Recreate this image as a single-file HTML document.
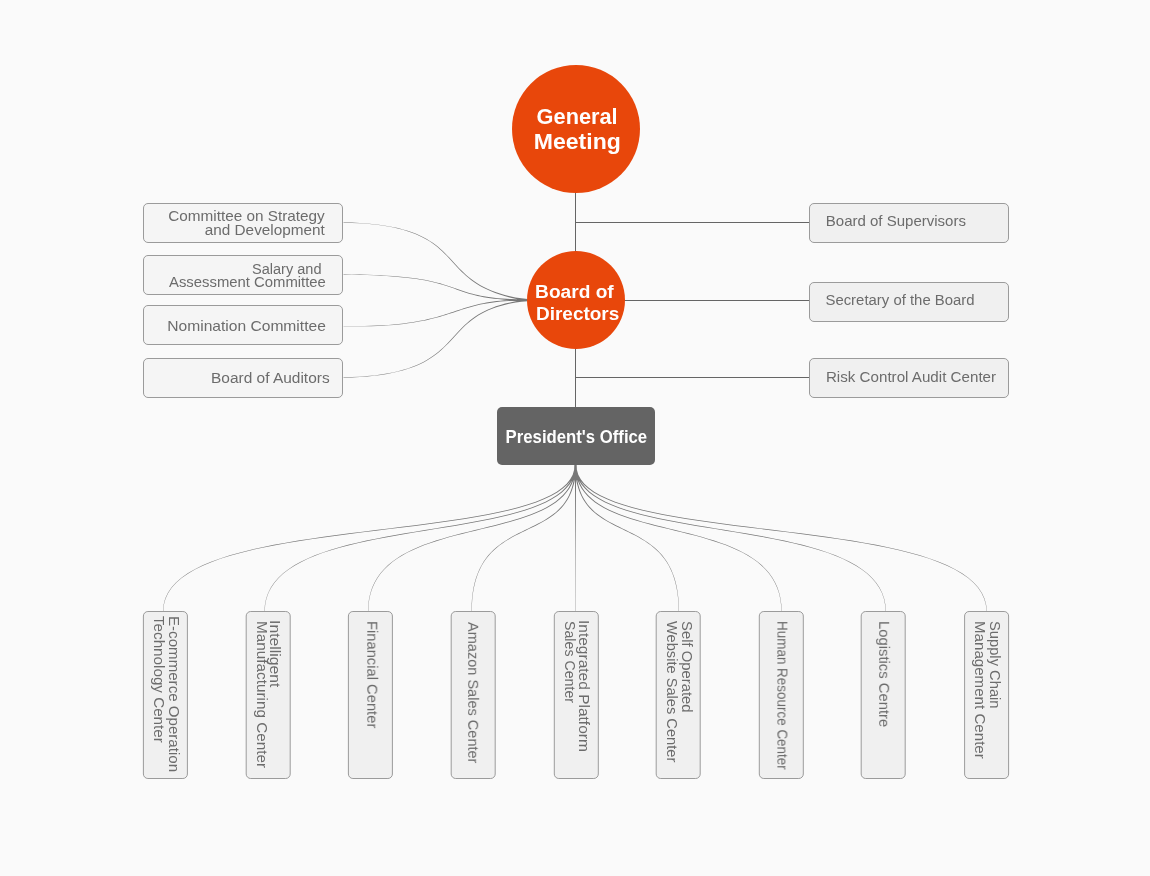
<!DOCTYPE html>
<html lang="en"><head><meta charset="utf-8"><title>Organization Chart</title>
<style>
html,body{margin:0;padding:0;background:#fafafa;}
body{width:1150px;height:876px;overflow:hidden;}
svg{display:block;font-family:"Liberation Sans",Arial,sans-serif;}
</style></head>
<body>
<svg width="1150" height="876" viewBox="0 0 1150 876">
<rect width="1150" height="876" fill="#fafafa"/>
<path d="M575.5 192V408M575.5 222.5H809M624 300.5H809M575.5 377.5H809" stroke="#656565" stroke-width="1" fill="none"/>
<path d="M574.33 464.50L574.11 469.72L572.70 474.68L570.19 479.35L566.67 483.72L562.18 487.82L556.80 491.64L550.57 495.21L543.55 498.53L535.78 501.63L527.31 504.51L518.19 507.19L508.48 509.70L498.22 512.04L487.45 514.24L476.23 516.30L464.60 518.25L452.61 520.10L440.32 521.87L427.76 523.57L414.98 525.22L402.04 526.84L388.98 528.44L375.84 530.05L362.68 531.67L349.54 533.32L336.48 535.02L323.53 536.79L310.75 538.64L298.19 540.59L285.88 542.65L273.89 544.85L262.25 547.20L251.02 549.71L240.24 552.40L229.95 555.29L220.22 558.39L211.08 561.73L202.58 565.31L194.78 569.16L187.71 573.29L181.43 577.72L175.98 582.47L171.41 587.55L167.78 592.97L165.12 598.76L163.50 604.94L162.95 611.50L163.25 611.50L163.81 604.99L165.43 598.88L168.08 593.14L171.69 587.77L176.24 582.74L181.67 578.03L187.93 573.63L194.98 569.53L202.76 565.71L211.24 562.15L220.37 558.83L230.09 555.75L240.36 552.88L251.13 550.20L262.36 547.71L273.99 545.38L285.98 543.20L298.28 541.15L310.84 539.22L323.62 537.38L336.56 535.63L349.62 533.94L362.76 532.30L375.92 530.70L389.06 529.11L402.12 527.52L415.07 525.92L427.85 524.28L440.42 522.59L452.72 520.84L464.72 519.00L476.36 517.07L487.60 515.01L498.39 512.83L508.67 510.50L518.42 508.00L527.57 505.32L536.08 502.44L543.90 499.35L550.99 496.02L557.31 492.44L562.80 488.60L567.43 484.46L571.16 480.01L573.95 475.23L575.79 470.08L576.67 464.50ZM574.33 464.50L574.23 469.77L573.21 474.74L571.34 479.41L568.70 483.78L565.33 487.87L561.29 491.68L556.61 495.24L551.32 498.55L545.48 501.64L539.10 504.52L532.24 507.20L524.92 509.71L517.19 512.05L509.08 514.24L500.62 516.30L491.86 518.25L482.83 520.10L473.56 521.87L464.09 523.57L454.46 525.22L444.71 526.84L434.86 528.44L424.96 530.05L415.04 531.67L405.13 533.32L395.28 535.02L385.52 536.79L375.89 538.64L366.41 540.59L357.14 542.66L348.09 544.86L339.32 547.20L330.85 549.71L322.72 552.41L314.96 555.30L307.62 558.40L300.73 561.74L294.32 565.33L288.43 569.18L283.10 573.31L278.37 577.74L274.26 582.49L270.82 587.57L268.08 592.99L266.08 598.78L264.86 604.94L264.45 611.50L264.75 611.50L265.17 604.98L266.40 598.86L268.40 593.12L271.13 587.75L274.56 582.72L278.65 578.01L283.37 573.62L288.68 569.52L294.55 565.70L300.94 562.14L307.81 558.83L315.14 555.74L322.88 552.87L331.00 550.20L339.46 547.71L348.23 545.38L357.26 543.20L366.53 541.15L376.00 539.21L385.63 537.38L395.39 535.63L405.24 533.94L415.14 532.30L425.06 530.70L434.97 529.11L444.82 527.52L454.58 525.91L464.22 524.28L473.69 522.59L482.97 520.83L492.02 519.00L500.80 517.06L509.28 515.01L517.41 512.82L525.17 510.49L532.53 507.99L539.43 505.31L545.86 502.43L551.77 499.33L557.12 495.99L561.90 492.41L566.05 488.55L569.56 484.40L572.38 479.95L574.51 475.17L575.93 470.03L576.67 464.50ZM574.33 464.50L574.37 469.81L573.74 474.81L572.52 479.49L570.77 483.86L568.54 487.94L565.85 491.75L562.74 495.30L559.23 498.60L555.34 501.68L551.10 504.55L546.54 507.23L541.67 509.73L536.52 512.07L531.11 514.26L525.48 516.32L519.64 518.26L513.62 520.11L507.44 521.87L501.13 523.58L494.71 525.23L488.20 526.85L481.64 528.45L475.03 530.05L468.41 531.67L461.81 533.33L455.24 535.03L448.72 536.80L442.30 538.65L435.97 540.60L429.78 542.67L423.75 544.86L417.89 547.21L412.24 549.72L406.81 552.42L401.63 555.31L396.73 558.42L392.13 561.76L387.86 565.35L383.93 569.20L380.37 573.34L377.21 577.77L374.48 582.52L372.18 587.59L370.36 593.01L369.03 598.79L368.22 604.95L367.95 611.50L368.25 611.50L368.53 604.98L369.36 598.85L370.69 593.10L372.52 587.72L374.81 582.69L377.54 577.98L380.69 573.59L384.23 569.49L388.15 565.67L392.41 562.12L396.99 558.81L401.88 555.72L407.04 552.86L412.45 550.19L418.09 547.69L423.94 545.37L429.96 543.19L436.15 541.14L442.46 539.21L448.88 537.37L455.39 535.62L461.96 533.93L468.57 532.30L475.19 530.69L481.79 529.10L488.37 527.51L494.88 525.91L501.31 524.27L507.64 522.58L513.83 520.83L519.87 518.99L525.74 517.05L531.40 515.00L536.83 512.81L542.02 510.47L546.94 507.97L551.56 505.28L555.85 502.39L559.81 499.28L563.40 495.93L566.59 492.34L569.38 488.47L571.73 484.32L573.63 479.87L575.07 475.10L576.08 469.99L576.67 464.50ZM574.33 464.50L574.50 469.85L574.27 474.88L573.71 479.58L572.86 483.97L571.75 488.06L570.41 491.87L568.86 495.41L567.11 498.72L565.17 501.79L563.06 504.65L560.78 507.31L558.36 509.80L555.79 512.13L553.10 514.31L550.29 516.36L547.37 518.30L544.36 520.15L541.28 521.91L538.12 523.60L534.91 525.25L531.66 526.87L528.37 528.47L525.06 530.08L521.75 531.70L518.44 533.35L515.15 535.05L511.88 536.82L508.66 538.68L505.49 540.63L502.39 542.70L499.36 544.90L496.43 547.25L493.59 549.77L490.87 552.47L488.28 555.36L485.82 558.48L483.52 561.82L481.38 565.41L479.42 569.26L477.64 573.39L476.06 577.82L474.70 582.56L473.55 587.62L472.65 593.03L471.98 598.81L471.58 604.96L471.45 611.50L471.75 611.50L471.90 604.97L472.31 598.84L472.99 593.08L473.91 587.69L475.06 582.65L476.43 577.94L478.02 573.54L479.80 569.44L481.76 565.62L483.90 562.06L486.20 558.75L488.64 555.67L491.23 552.81L493.94 550.14L496.76 547.65L499.69 545.33L502.70 543.15L505.80 541.11L508.96 539.18L512.18 537.35L515.43 535.60L518.72 533.91L522.03 532.27L525.35 530.67L528.66 529.08L531.96 527.49L535.23 525.88L538.46 524.24L541.63 522.55L544.74 520.79L547.78 518.95L550.73 517.00L553.58 514.94L556.31 512.74L558.92 510.40L561.40 507.88L563.72 505.18L565.89 502.28L567.88 499.17L569.68 495.82L571.29 492.22L572.69 488.36L573.89 484.22L574.86 479.78L575.63 475.03L576.22 469.95L576.67 464.50ZM574.33 464.50L574.64 469.90L574.81 474.95L574.91 479.68L574.97 484.09L575.00 488.21L575.03 492.04L575.04 495.62L575.05 498.94L575.06 502.04L575.07 504.92L575.08 507.60L575.09 510.10L575.10 512.44L575.10 514.63L575.11 516.68L575.12 518.62L575.13 520.47L575.13 522.23L575.14 523.92L575.15 525.57L575.16 527.18L575.16 528.78L575.17 530.37L575.18 531.98L575.19 533.63L575.19 535.32L575.20 537.09L575.21 538.93L575.22 540.87L575.22 542.93L575.23 545.12L575.24 547.45L575.25 549.96L575.25 552.64L575.26 555.52L575.27 558.61L575.28 561.94L575.28 565.51L575.29 569.35L575.30 573.46L575.31 577.88L575.31 582.60L575.32 587.66L575.33 593.06L575.34 598.82L575.34 604.96L575.35 611.50L575.65 611.50L575.66 604.96L575.66 598.82L575.67 593.06L575.68 587.66L575.69 582.60L575.69 577.88L575.70 573.46L575.71 569.35L575.72 565.51L575.72 561.94L575.73 558.61L575.74 555.52L575.75 552.64L575.75 549.96L575.76 547.45L575.77 545.12L575.78 542.93L575.78 540.87L575.79 538.93L575.80 537.09L575.81 535.32L575.81 533.63L575.82 531.98L575.83 530.37L575.84 528.78L575.84 527.18L575.85 525.57L575.86 523.92L575.87 522.23L575.87 520.47L575.88 518.62L575.89 516.68L575.90 514.63L575.90 512.44L575.91 510.10L575.92 507.60L575.93 504.92L575.94 502.04L575.95 498.94L575.96 495.62L575.97 492.04L576.00 488.21L576.03 484.09L576.09 479.68L576.19 474.95L576.36 469.90L576.67 464.50ZM574.33 464.50L574.78 469.95L575.36 475.03L576.13 479.78L577.10 484.22L578.29 488.36L579.68 492.22L581.28 495.82L583.07 499.16L585.05 502.28L587.20 505.18L589.52 507.88L591.98 510.40L594.57 512.74L597.30 514.94L600.13 517.00L603.06 518.95L606.08 520.79L609.17 522.55L612.33 524.24L615.54 525.88L618.79 527.49L622.06 529.08L625.36 530.67L628.66 532.27L631.95 533.91L635.22 535.60L638.46 537.35L641.66 539.18L644.80 541.11L647.87 543.15L650.87 545.33L653.78 547.65L656.59 550.14L659.28 552.81L661.85 555.67L664.29 558.75L666.57 562.06L668.70 565.62L670.65 569.44L672.42 573.54L673.99 577.94L675.36 582.65L676.51 587.69L677.42 593.08L678.09 598.84L678.50 604.97L678.65 611.50L678.95 611.50L678.82 604.96L678.42 598.81L677.76 593.03L676.86 587.62L675.72 582.56L674.36 577.82L672.80 573.39L671.03 569.26L669.08 565.41L666.95 561.82L664.66 558.48L662.22 555.36L659.64 552.47L656.94 549.77L654.12 547.25L651.20 544.90L648.19 542.70L645.10 540.63L641.95 538.68L638.75 536.82L635.50 535.05L632.23 533.35L628.94 531.70L625.65 530.08L622.36 528.47L619.09 526.87L615.85 525.25L612.66 523.61L609.53 521.91L606.46 520.15L603.47 518.30L600.57 516.36L597.78 514.31L595.10 512.13L592.55 509.80L590.14 507.32L587.87 504.65L585.77 501.79L583.85 498.72L582.10 495.42L580.56 491.87L579.23 488.06L578.13 483.97L577.29 479.58L576.73 474.88L576.50 469.86L576.67 464.50ZM574.33 464.50L574.92 469.99L575.92 475.10L577.36 479.87L579.24 484.32L581.58 488.47L584.34 492.34L587.52 495.93L591.08 499.28L595.01 502.39L599.28 505.28L603.87 507.97L608.75 510.47L613.90 512.81L619.30 515.00L624.93 517.05L630.75 518.99L636.75 520.83L642.90 522.58L649.19 524.27L655.57 525.91L662.04 527.51L668.57 529.10L675.14 530.69L681.71 532.30L688.27 533.93L694.80 535.62L701.26 537.37L707.64 539.21L713.91 541.14L720.05 543.19L726.04 545.37L731.84 547.69L737.45 550.19L742.82 552.86L747.95 555.72L752.80 558.81L757.35 562.12L761.59 565.67L765.47 569.49L768.99 573.59L772.12 577.98L774.84 582.69L777.11 587.72L778.92 593.10L780.25 598.85L781.07 604.98L781.35 611.50L781.65 611.50L781.38 604.95L780.57 598.79L779.26 593.01L777.45 587.59L775.17 582.52L772.45 577.77L769.31 573.34L765.78 569.20L761.88 565.35L757.63 561.76L753.06 558.42L748.19 555.31L743.05 552.42L737.66 549.73L732.05 547.21L726.23 544.86L720.24 542.67L714.09 540.60L707.81 538.65L701.42 536.80L694.95 535.03L688.43 533.33L681.86 531.67L675.29 530.05L668.73 528.45L662.21 526.85L655.75 525.23L649.37 523.58L643.10 521.88L636.96 520.11L630.98 518.26L625.18 516.32L619.59 514.26L614.22 512.07L609.11 509.73L604.27 507.23L599.74 504.55L595.53 501.68L591.66 498.60L588.18 495.30L585.09 491.75L582.42 487.94L580.20 483.86L578.47 479.49L577.26 474.81L576.63 469.81L576.67 464.50ZM574.33 464.50L575.07 470.03L576.49 475.17L578.61 479.95L581.43 484.40L584.93 488.55L589.07 492.41L593.83 495.99L599.18 499.33L605.08 502.43L611.49 505.31L618.38 507.99L625.71 510.49L633.46 512.82L641.58 515.01L650.03 517.06L658.79 519.00L667.82 520.83L677.08 522.59L686.53 524.28L696.15 525.91L705.89 527.52L715.72 529.11L725.60 530.70L735.50 532.30L745.38 533.94L755.20 535.63L764.94 537.38L774.55 539.21L784.00 541.15L793.25 543.20L802.26 545.38L811.01 547.71L819.45 550.20L827.55 552.87L835.27 555.74L842.58 558.83L849.44 562.14L855.82 565.70L861.68 569.52L866.98 573.62L871.68 578.01L875.77 582.72L879.19 587.75L881.91 593.12L883.90 598.86L885.13 604.98L885.55 611.50L885.85 611.50L885.44 604.94L884.22 598.78L882.23 592.99L879.50 587.57L876.06 582.49L871.96 577.74L867.24 573.31L861.92 569.18L856.04 565.33L849.65 561.74L842.77 558.40L835.45 555.30L827.71 552.41L819.60 549.71L811.15 547.20L802.40 544.86L793.37 542.66L784.12 540.59L774.66 538.64L765.05 536.79L755.31 535.02L745.48 533.32L735.60 531.67L725.70 530.05L715.82 528.44L706.00 526.84L696.26 525.22L686.66 523.57L677.21 521.87L667.96 520.10L658.95 518.25L650.21 516.30L641.77 514.24L633.68 512.05L625.96 509.71L618.66 507.20L611.82 504.52L605.46 501.64L599.62 498.55L594.35 495.24L589.68 491.68L585.64 487.87L582.29 483.78L579.65 479.41L577.79 474.74L576.76 469.77L576.67 464.50ZM574.33 464.50L575.21 470.08L577.04 475.23L579.83 480.01L583.54 484.46L588.16 488.59L593.64 492.44L599.93 496.02L607.00 499.35L614.80 502.44L623.28 505.32L632.40 508.00L642.11 510.50L652.37 512.83L663.12 515.01L674.32 517.07L685.93 519.00L697.89 520.84L710.16 522.59L722.68 524.28L735.42 525.92L748.33 527.52L761.36 529.11L774.45 530.70L787.57 532.30L800.66 533.94L813.69 535.63L826.59 537.38L839.33 539.22L851.85 541.15L864.11 543.20L876.06 545.38L887.65 547.71L898.84 550.20L909.58 552.88L919.82 555.75L929.51 558.83L938.61 562.15L947.06 565.71L954.82 569.53L961.85 573.63L968.09 578.03L973.50 582.74L978.03 587.77L981.64 593.14L984.27 598.88L985.89 604.99L986.45 611.50L986.75 611.50L986.20 604.94L984.59 598.76L981.94 592.97L978.32 587.55L973.76 582.47L968.33 577.72L962.07 573.29L955.02 569.16L947.24 565.31L938.77 561.73L929.66 558.39L919.96 555.29L909.71 552.40L898.96 549.71L887.76 547.20L876.16 544.85L864.20 542.65L851.94 540.59L839.41 538.64L826.67 536.79L813.77 535.02L800.74 533.32L787.65 531.67L774.53 530.05L761.44 528.44L748.42 526.84L735.51 525.22L722.78 523.57L710.26 521.87L698.00 520.10L686.05 518.25L674.46 516.30L663.27 514.24L652.54 512.04L642.31 509.70L632.63 507.19L623.54 504.51L615.10 501.63L607.35 498.53L600.35 495.21L594.14 491.64L588.78 487.82L584.31 483.73L580.79 479.35L578.30 474.68L576.89 469.72L576.67 464.50ZM527.67 299.04L521.35 298.34L515.45 297.39L509.93 296.25L504.78 294.96L499.98 293.56L495.50 292.05L491.33 290.45L487.44 288.76L483.81 286.99L480.42 285.16L477.26 283.26L474.30 281.30L471.52 279.29L468.90 277.24L466.42 275.15L464.06 273.02L461.81 270.86L459.63 268.67L457.52 266.47L455.45 264.26L453.41 262.04L451.36 259.83L449.30 257.62L447.21 255.42L445.05 253.24L442.82 251.08L440.50 248.96L438.06 246.87L435.48 244.83L432.75 242.83L429.84 240.89L426.74 239.02L423.43 237.21L419.88 235.48L416.08 233.82L412.01 232.25L407.64 230.78L402.96 229.40L397.95 228.12L392.58 226.96L386.85 225.91L380.72 224.98L374.18 224.17L367.21 223.50L359.78 222.97L351.89 222.59L343.50 222.35L343.50 222.65L351.88 222.90L359.76 223.30L367.18 223.85L374.14 224.53L380.67 225.35L386.78 226.29L392.50 227.35L397.85 228.53L402.84 229.82L407.50 231.20L411.85 232.69L415.90 234.26L419.67 235.92L423.19 237.66L426.48 239.47L429.55 241.35L432.43 243.29L435.14 245.28L437.69 247.32L440.10 249.40L442.40 251.53L444.61 253.68L446.74 255.86L448.82 258.06L450.87 260.28L452.90 262.51L454.94 264.74L457.00 266.96L459.11 269.18L461.28 271.39L463.54 273.57L465.90 275.73L468.39 277.85L471.03 279.94L473.83 281.98L476.81 283.97L480.00 285.90L483.41 287.77L487.07 289.57L490.98 291.29L495.18 292.94L499.68 294.50L504.50 295.98L509.66 297.39L515.17 298.73L521.05 300.04L527.33 301.36ZM527.52 299.03L521.78 299.22L516.38 299.21L511.32 299.07L506.58 298.84L502.13 298.54L497.97 298.18L494.06 297.77L490.40 297.32L486.96 296.82L483.73 296.29L480.69 295.72L477.81 295.12L475.09 294.50L472.51 293.84L470.03 293.17L467.66 292.47L465.36 291.75L463.12 291.02L460.93 290.27L458.76 289.52L456.60 288.75L454.42 287.98L452.21 287.21L449.96 286.43L447.64 285.66L445.24 284.89L442.73 284.13L440.11 283.37L437.34 282.63L434.42 281.91L431.33 281.20L428.05 280.51L424.56 279.85L420.83 279.21L416.87 278.60L412.64 278.02L408.12 277.47L403.31 276.95L398.18 276.48L392.71 276.05L386.89 275.65L380.70 275.31L374.11 275.01L367.12 274.76L359.70 274.57L351.83 274.43L343.50 274.35L343.50 274.65L351.83 274.74L359.69 274.90L367.11 275.11L374.10 275.37L380.68 275.68L386.87 276.04L392.68 276.45L398.14 276.90L403.27 277.39L408.07 277.91L412.58 278.48L416.80 279.07L420.75 279.70L424.46 280.35L427.94 281.03L431.22 281.73L434.29 282.45L437.20 283.18L439.95 283.93L442.56 284.70L445.05 285.47L447.44 286.25L449.75 287.04L452.00 287.83L454.19 288.61L456.36 289.40L458.53 290.18L460.69 290.95L462.89 291.71L465.13 292.46L467.43 293.20L469.82 293.91L472.30 294.61L474.90 295.28L477.64 295.92L480.52 296.54L483.58 297.13L486.82 297.68L490.28 298.20L493.95 298.68L497.87 299.12L502.05 299.53L506.51 299.90L511.26 300.24L516.33 300.58L521.73 300.93L527.48 301.37ZM527.51 299.03L522.41 299.32L517.57 299.54L512.97 299.77L508.60 300.02L504.44 300.31L500.49 300.66L496.72 301.06L493.13 301.51L489.70 302.01L486.41 302.56L483.26 303.16L480.23 303.80L477.30 304.47L474.47 305.19L471.71 305.93L469.02 306.70L466.39 307.50L463.79 308.32L461.21 309.16L458.65 310.01L456.09 310.87L453.51 311.74L450.90 312.62L448.24 313.49L445.53 314.37L442.74 315.23L439.87 316.09L436.91 316.94L433.83 317.77L430.62 318.58L427.27 319.37L423.77 320.13L420.10 320.87L416.26 321.57L412.21 322.23L407.96 322.86L403.48 323.44L398.77 323.98L393.81 324.47L388.59 324.90L383.09 325.27L377.29 325.59L371.20 325.84L364.79 326.03L358.04 326.14L350.95 326.19L343.50 326.15L343.50 326.45L350.95 326.50L358.04 326.47L364.79 326.37L371.21 326.20L377.31 325.96L383.11 325.66L388.62 325.30L393.85 324.88L398.82 324.41L403.54 323.89L408.02 323.32L412.28 322.71L416.34 322.06L420.20 321.37L423.88 320.65L427.39 319.90L430.75 319.12L433.97 318.32L437.06 317.50L440.04 316.67L442.92 315.82L445.72 314.96L448.44 314.10L451.10 313.24L453.72 312.38L456.31 311.52L458.87 310.67L461.44 309.84L464.01 309.02L466.60 308.21L469.24 307.43L471.92 306.68L474.66 305.95L477.49 305.26L480.40 304.60L483.42 303.98L486.56 303.41L489.83 302.88L493.25 302.40L496.82 301.97L500.57 301.60L504.51 301.30L508.65 301.08L513.01 300.94L517.59 300.91L522.41 301.04L527.49 301.37ZM527.37 299.03L521.23 300.13L515.48 301.23L510.09 302.38L505.05 303.61L500.33 304.94L495.93 306.36L491.81 307.88L487.97 309.49L484.37 311.19L481.01 312.98L477.87 314.84L474.92 316.77L472.15 318.76L469.53 320.81L467.06 322.91L464.70 325.05L462.44 327.23L460.25 329.44L458.13 331.67L456.05 333.92L453.99 336.17L451.93 338.43L449.85 340.69L447.74 342.94L445.56 345.17L443.31 347.38L440.96 349.56L438.50 351.70L435.90 353.81L433.15 355.86L430.21 357.87L427.09 359.81L423.75 361.69L420.17 363.49L416.34 365.22L412.24 366.86L407.85 368.41L403.14 369.86L398.10 371.20L392.71 372.43L386.95 373.54L380.79 374.53L374.23 375.38L367.24 376.10L359.80 376.67L351.89 377.09L343.50 377.35L343.50 377.65L351.91 377.40L359.82 377.00L367.27 376.44L374.27 375.74L380.85 374.90L387.01 373.92L392.79 372.83L398.20 371.61L403.26 370.27L407.99 368.83L412.41 367.29L416.53 365.66L420.39 363.94L423.99 362.14L427.35 360.26L430.51 358.32L433.47 356.31L436.25 354.26L438.87 352.15L441.36 350.00L443.74 347.82L446.01 345.61L448.20 343.38L450.33 341.14L452.43 338.89L454.50 336.64L456.57 334.39L458.66 332.16L460.78 329.95L462.96 327.76L465.22 325.61L467.57 323.50L470.03 321.43L472.63 319.41L475.39 317.45L478.31 315.55L481.43 313.72L484.76 311.97L488.33 310.31L492.14 308.73L496.23 307.25L500.61 305.89L505.31 304.64L510.34 303.53L515.72 302.58L521.48 301.84L527.63 301.37Z" fill="#777777"/>
<circle cx="576" cy="129" r="64" fill="#e8470b"/>
<circle cx="576" cy="300" r="49" fill="#e8470b"/>
<rect x="497" y="407" width="158" height="58" rx="5" fill="#646464"/>
<g fill="#f0f0f0" stroke="#9b9b9b" stroke-width="1"><rect x="143.5" y="203.5" width="199" height="39" rx="4.5" fill="#f5f5f5"/><rect x="143.5" y="255.5" width="199" height="39" rx="4.5" fill="#f5f5f5"/><rect x="143.5" y="305.5" width="199" height="39" rx="4.5" fill="#f5f5f5"/><rect x="143.5" y="358.5" width="199" height="39" rx="4.5" fill="#f5f5f5"/><rect x="809.5" y="203.5" width="199" height="39" rx="4.5"/><rect x="809.5" y="282.5" width="199" height="39" rx="4.5"/><rect x="809.5" y="358.5" width="199" height="39" rx="4.5"/><rect x="143.4" y="611.5" width="44" height="167" rx="4.5"/><rect x="246.2" y="611.5" width="44" height="167" rx="4.5"/><rect x="348.4" y="611.5" width="44" height="167" rx="4.5"/><rect x="451.2" y="611.5" width="44" height="167" rx="4.5"/><rect x="554.3" y="611.5" width="44" height="167" rx="4.5"/><rect x="656.2" y="611.5" width="44" height="167" rx="4.5"/><rect x="759.3" y="611.5" width="44" height="167" rx="4.5"/><rect x="861.2" y="611.5" width="44" height="167" rx="4.5"/><rect x="964.6" y="611.5" width="44" height="167" rx="4.5"/></g>
<g style="opacity:0.999">
<text transform="translate(168.21 220.80) scale(1.0563 1)" font-size="14.5" font-weight="400" fill="#6c6c6c">Committee on Strategy</text>
<text transform="translate(204.74 234.50) scale(1.0578 1)" font-size="14.5" font-weight="400" fill="#6c6c6c">and Development</text>
<text transform="translate(251.95 273.70) scale(1.0041 1)" font-size="14.5" font-weight="400" fill="#6c6c6c">Salary and</text>
<text transform="translate(169.00 287.10) scale(1.0256 1)" font-size="14.5" font-weight="400" fill="#6c6c6c">Assessment Committee</text>
<text transform="translate(167.25 331.00) scale(1.0767 1)" font-size="14.5" font-weight="400" fill="#6c6c6c">Nomination Committee</text>
<text transform="translate(210.97 382.90) scale(1.0676 1)" font-size="14.5" font-weight="400" fill="#6c6c6c">Board of Auditors</text>
<text transform="translate(825.81 226.20) scale(1.0357 1)" font-size="14.5" font-weight="400" fill="#6c6c6c">Board of Supervisors</text>
<text transform="translate(825.43 304.70) scale(1.0288 1)" font-size="14.5" font-weight="400" fill="#6c6c6c">Secretary of the Board</text>
<text transform="translate(825.89 382.30) scale(1.0462 1)" font-size="14.5" font-weight="400" fill="#6c6c6c">Risk Control Audit Center</text>
<text transform="translate(536.61 124.40) scale(1.0126 1)" font-size="21.5" font-weight="700" fill="#fff">General</text>
<text transform="translate(533.79 148.90) scale(1.0722 1)" font-size="21.5" font-weight="700" fill="#fff">Meeting</text>
<text transform="translate(535.12 298.20) scale(1.0235 1)" font-size="18.7" font-weight="700" fill="#fff">Board of</text>
<text transform="translate(535.93 320.00) scale(1.0162 1)" font-size="18.7" font-weight="700" fill="#fff">Directors</text>
<text transform="translate(505.62 443.40) scale(0.9564 1)" font-size="17.5" font-weight="700" fill="#fff">President&#39;s Office</text>
</g>
<g style="opacity:0.999">
<text transform="translate(168.60 616.00) rotate(90) scale(1.0135 1)" font-size="14.9" fill="#6c6c6c">E-commerce Operation</text>
<text transform="translate(154.30 616.00) rotate(90) scale(1.0219 1)" font-size="14.9" fill="#6c6c6c">Technology Center</text>
<text transform="translate(270.40 620.00) rotate(90) scale(1.0586 1)" font-size="14.9" fill="#6c6c6c">Intelligent</text>
<text transform="translate(256.60 621.00) rotate(90) scale(1.0267 1)" font-size="14.9" fill="#6c6c6c">Manufacturing Center</text>
<text transform="translate(367.30 621.00) rotate(90) scale(0.9899 1)" font-size="14.9" fill="#6c6c6c">Financial Center</text>
<text transform="translate(468.20 622.00) rotate(90) scale(0.9763 1)" font-size="14.9" fill="#6c6c6c">Amazon Sales Center</text>
<text transform="translate(579.30 620.00) rotate(90) scale(1.0414 1)" font-size="14.9" fill="#6c6c6c">Integrated Platform</text>
<text transform="translate(565.40 621.00) rotate(90) scale(0.9527 1)" font-size="14.9" fill="#6c6c6c">Sales Center</text>
<text transform="translate(681.70 621.00) rotate(90) scale(0.9964 1)" font-size="14.9" fill="#6c6c6c">Self Operated</text>
<text transform="translate(667.40 621.00) rotate(90) scale(0.9827 1)" font-size="14.9" fill="#6c6c6c">Website Sales Center</text>
<text transform="translate(777.40 621.00) rotate(90) scale(0.9035 1)" font-size="14.9" fill="#6c6c6c">Human Resource Center</text>
<text transform="translate(879.20 621.00) rotate(90) scale(0.9955 1)" font-size="14.9" fill="#6c6c6c">Logistics Centre</text>
<text transform="translate(989.60 621.00) rotate(90) scale(0.9888 1)" font-size="14.9" fill="#6c6c6c">Supply Chain</text>
<text transform="translate(975.20 621.00) rotate(90) scale(1.0153 1)" font-size="14.9" fill="#6c6c6c">Management Center</text>
</g>
</svg>
</body></html>
